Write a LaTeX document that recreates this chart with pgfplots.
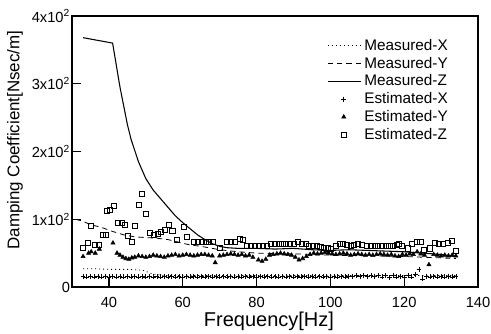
\documentclass[border=0pt]{standalone}
\usepackage{pgfplots}
\pgfplotsset{compat=1.18}
\usepackage{fontspec}
\setmainfont{Liberation Sans}
\pgfplotsset{
  lineleg/.style={legend image code/.code={\draw[##1] (0pt,0pt) -- (25pt,0pt);}},
  markleg/.style={legend image code/.code={\path (0pt,0pt) (25pt,0pt); \draw[##1, only marks] plot coordinates {(12pt,0pt)};}},
}
\begin{document}
\begin{tikzpicture}
\begin{axis}[
  at={(0pt,0pt)}, anchor=south west,
  scale only axis, width=304.5pt, height=203.25pt,
  xmin=30, xmax=140, ymin=0, ymax=400,
  xtick={40,60,80,100,120,140},
  ytick={0,100,200,300,400},
  yticklabels={0,1x10\textsuperscript{2},2x10\textsuperscript{2},3x10\textsuperscript{2},4x10\textsuperscript{2}},
  /pgf/number format/assume math mode=true,
  tick pos=left, tick align=inside,
  major tick length=7pt,
  axis line style={line width=1.1pt},
  tick style={line width=1pt, black},
  ticklabel style={font=\fontsize{11}{13}\selectfont},
  xticklabel style={yshift=-4pt},
  yticklabel style={xshift=2pt},
  xlabel={Frequency[Hz]},
  ylabel={Damping Coefficient[Nsec/m]},
  every axis x label/.style={at={(axis description cs:0.485,0)}, anchor=center, yshift=-25.5pt, font=\fontsize{15}{17}\selectfont},
  every axis y label/.style={at={(axis description cs:0,0.542)}, xshift=-42.75pt, rotate=90, anchor=center, font=\fontsize{12.7}{14}\selectfont},
  legend style={at={(0.628,0.925)}, anchor=north west, draw=none, fill=none, inner sep=0pt, font=\fontsize{11.5}{13}\selectfont, row sep=-0.5pt, nodes={inner sep=2pt}},
  legend cell align=left,
]
\addplot[black, line width=0.6pt, dash pattern=on 0.8pt off 2.2pt, lineleg] coordinates {
(33,27) (36,27) (40,26) (45,26) (49,25) (52,19) (55,17) (60,17) (70,17) (80,17) (90,17) (100,17) (110,17) (120,17) (130,17) (134,17)};
\addlegendentry{Measured-X}
\addplot[black, line width=0.6pt, dash pattern=on 4pt off 3pt, lineleg] coordinates {
(31,100) (33,97) (35,92) (38,88) (41,82) (44,77) (47,74) (50,73) (53,72) (56,70) (59,66) (62,62) (65,60) (68,57) (70,55) (75,52) (80,50) (90,49) (100,47) (110,46) (120,45) (125,44) (130,43) (134,42)};
\addlegendentry{Measured-Y}
\addplot[black, line width=0.8pt, lineleg] coordinates {
(33,368) (37,364) (41,360) (43,295) (45,240) (46,218) (48,185) (50,160) (52,143) (55,124) (58,105) (60,95) (62,86) (64,77) (66,70) (68,64) (70,60) (72,58) (75,57) (80,57) (85,56) (90,57) (95,55) (100,54) (105,55) (110,54) (115,53) (120,52) (125,50) (130,48) (134,45)};
\addlegendentry{Measured-Z}
\addplot[black, only marks, mark=+, mark size=1.8pt, line width=0.5pt, markleg] coordinates {
(33,16) (34,15) (35,16) (36,15) (37,16) (38,15) (39,16) (40,15) (41,16) (42,15) (43,16) (44,15) (45,16) (46,15) (47,16) (48,15) (49,16) (50,15) (51,16) (52,15) (53,16) (54,15) (55,16) (56,15) (57,16) (58,15) (59,16) (60,15) (61,16) (62,15) (63,16) (64,15) (65,16) (66,15) (67,16) (68,15) (69,16) (70,15) (71,16) (72,15) (73,16) (74,15) (75,16) (76,15) (77,16) (78,15) (79,16) (80,15) (81,16) (82,15) (83,16) (84,15) (85,16) (86,15) (87,16) (88,15) (89,16) (90,15) (91,16) (92,15) (93,16) (94,15) (95,16) (96,15) (97,16) (98,15) (99,16) (100,15) (101,16) (102,15) (103,16) (104,15) (105,16) (106,16) (107,17) (108,16) (109,17) (110,16) (111,17) (112,16) (113,17) (114,15) (115,17) (116,14) (117,17) (118,15) (119,16) (120,14) (121,17) (122,15) (123,18) (124,26) (125,12) (126,16) (127,15) (128,16) (129,15) (130,16) (131,15) (132,16) (133,15) (134,16)};
\addlegendentry{Estimated-X}
\addplot[black, only marks, mark=triangle*, mark size=1.8pt, line width=0.4pt, mark options={fill=black}, markleg] coordinates {
(33,45) (34.5,50) (35.2,52) (36.3,50) (37.4,56) (41.1,65) (42.2,50) (43,47) (43.8,44) (44.6,42) (45.4,41) (46.2,43) (47,44) (48,46) (49,45) (50,44) (51,45) (52,47) (53,46) (54,45) (55,44) (56,46) (57,47) (58,48) (59,46) (60,47) (61,48) (62,47) (63,46) (64,47) (65,48) (66,48) (67,47) (68,46) (68.8,36) (70,46) (71,47) (72,48) (73,49) (74,48) (75,47) (76,48) (77,46) (78,47) (79,44) (80.5,40) (81.5,38) (82.5,41) (83.5,47) (84.5,48) (85.5,49) (86.5,50) (87.5,49) (88.5,48) (89.5,47) (90.5,44) (91.5,40) (92.5,42) (93.5,45) (94.5,48) (95.5,50) (96.5,49) (97.5,50) (98.5,51) (99.5,50) (100.5,49) (101.5,48) (102.5,49) (103.5,50) (104.5,49) (105.5,47) (106.5,48) (107.5,49) (108.5,48) (109.5,47) (110.5,48) (111.5,47) (112.5,48) (113.5,49) (114.5,48) (115.5,47) (116.5,48) (117.5,46) (118.5,45) (119.5,48) (120.5,47) (121.5,49) (122.5,48) (123.5,52) (124.5,49) (125.5,47) (126.7,33) (128,48) (129,47) (130,46) (131,47) (132,46) (133,47) (134,46)};
\addlegendentry{Estimated-Y}
\addplot[black, only marks, mark=square, mark size=1.9pt, line width=0.6pt, markleg] coordinates {
(33,58) (34.3,65) (35,90) (36.1,62) (37.3,62) (38.4,77) (39.3,77) (39.4,113) (40.3,114) (41.4,120) (42.5,95) (43.4,95) (44.3,92) (45.2,75) (46.2,66) (47,90) (48.2,121) (49,138) (50.1,108) (51,80) (52.1,77) (53.3,79) (54.2,82) (55.1,84) (56.2,91) (57.2,83) (58.4,70) (60.2,89) (61.1,74) (62.9,67) (64,67) (65.1,67) (66.3,66) (67.2,67) (68.1,66) (70.1,58) (71.9,66) (73,66) (74.2,67) (75.5,71) (76.3,69) (77.3,61) (78.4,61) (79.5,61) (80.6,61) (81.7,61) (82.9,61) (84,63) (85,63) (86,63) (87,63) (88,63) (89,63) (90,64) (91.3,66) (92.3,64) (93.3,63) (94.3,61) (95.3,60) (96.3,60) (97.3,59) (98.3,58) (99.3,57) (100.2,56) (101.5,61) (102.6,63) (103.5,63) (104.5,62) (105.5,60) (106.5,62) (107.5,63) (108.5,62) (109.8,61) (111,61) (112,61) (113,61) (114,61) (115,61) (116,61) (117,61) (118,62) (118.6,64) (119.5,61) (120.9,57) (122,63) (123.5,66) (124.4,66) (125.3,55) (127,57) (128.3,65) (129.5,64) (130.6,63) (131.8,65) (133,68) (134,53)};
\addlegendentry{Estimated-Z}
\end{axis}
\pgfresetboundingbox
\path (-54pt,-35.25pt) rectangle (314.25pt,215.25pt);
\end{tikzpicture}
\end{document}
